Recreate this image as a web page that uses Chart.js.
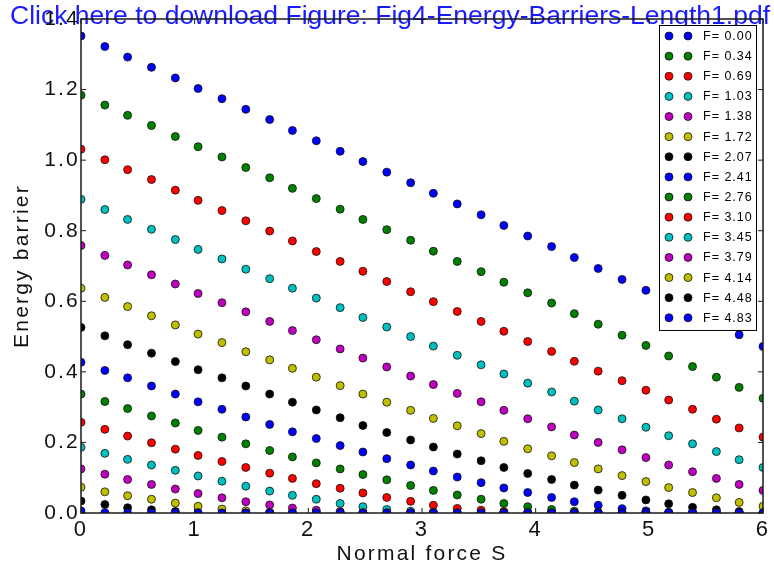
<!DOCTYPE html>
<html>
<head>
<meta charset="utf-8">
<script src="https://cdn.jsdelivr.net/npm/chart.js@4.4.1/dist/chart.umd.min.js"></script>
<style>
  html, body { margin: 0; padding: 0; background: #fff; }
  #wrap { position: relative; width: 774px; height: 568px; }
</style>
</head>
<body>
<div id="wrap"><canvas id="barrierChart"></canvas></div>
<script>
// normal force S (x positions of the points)
var sValues = [0, 0.21, 0.41, 0.62, 0.83, 1.03, 1.24, 1.45, 1.66, 1.86, 2.07, 2.28, 2.48, 2.69, 2.90,
  3.10, 3.31, 3.52, 3.72, 3.93, 4.14, 4.34, 4.55, 4.76, 4.97, 5.17, 5.38, 5.59, 5.79, 6.00];

var fLabels = ["F= 0.00", "F= 0.34", "F= 0.69", "F= 1.03", "F= 1.38", "F= 1.72", "F= 2.07", "F= 2.41",
  "F= 2.76", "F= 3.10", "F= 3.45", "F= 3.79", "F= 4.14", "F= 4.48", "F= 4.83"];

// matplotlib classic colour cycle b g r c m y k
var colorCycle = ["#0000ff", "#008000", "#ff0000", "#00bfbf", "#bf00bf", "#bfbf00", "#000000"];

var xTicks = [0, 1, 2, 3, 4, 5, 6];
var yTicks = [0, 0.2, 0.4, 0.6, 0.8, 1.0, 1.2, 1.4];

// energy barrier, one array per F
var barrierF000 = [1.352, 1.322, 1.292, 1.263, 1.233, 1.203, 1.174, 1.144, 1.115, 1.084, 1.055, 1.025, 0.996, 0.966, 0.936,
  0.906, 0.876, 0.845, 0.815, 0.785, 0.755, 0.724, 0.693, 0.662, 0.631, 0.600, 0.568, 0.537, 0.505, 0.472];
var barrierF034 = [1.184, 1.156, 1.127, 1.098, 1.067, 1.038, 1.009, 0.979, 0.950, 0.920, 0.891, 0.861, 0.832, 0.803, 0.773,
  0.742, 0.713, 0.684, 0.654, 0.624, 0.595, 0.565, 0.535, 0.504, 0.475, 0.445, 0.415, 0.385, 0.356, 0.325];
var barrierF069 = [1.031, 1.001, 0.973, 0.945, 0.915, 0.886, 0.857, 0.828, 0.799, 0.771, 0.741, 0.713, 0.685, 0.656, 0.627,
  0.599, 0.571, 0.543, 0.515, 0.486, 0.458, 0.430, 0.402, 0.375, 0.348, 0.320, 0.294, 0.266, 0.241, 0.215];
var barrierF103 = [0.889, 0.860, 0.832, 0.804, 0.775, 0.747, 0.720, 0.691, 0.664, 0.637, 0.609, 0.582, 0.554, 0.527, 0.500,
  0.473, 0.447, 0.420, 0.394, 0.368, 0.343, 0.317, 0.292, 0.267, 0.243, 0.219, 0.196, 0.174, 0.151, 0.129];
var barrierF138 = [0.758, 0.730, 0.703, 0.675, 0.649, 0.622, 0.596, 0.570, 0.543, 0.517, 0.491, 0.465, 0.439, 0.414, 0.388,
  0.364, 0.339, 0.315, 0.291, 0.267, 0.244, 0.221, 0.200, 0.179, 0.157, 0.136, 0.117, 0.098, 0.081, 0.064];
var barrierF172 = [0.637, 0.611, 0.585, 0.559, 0.533, 0.507, 0.483, 0.457, 0.434, 0.410, 0.385, 0.361, 0.337, 0.314, 0.291,
  0.268, 0.247, 0.225, 0.203, 0.182, 0.162, 0.143, 0.125, 0.106, 0.089, 0.072, 0.058, 0.043, 0.030, 0.019];
var barrierF207 = [0.526, 0.502, 0.477, 0.453, 0.429, 0.406, 0.383, 0.360, 0.337, 0.314, 0.292, 0.270, 0.248, 0.228, 0.207,
  0.187, 0.167, 0.148, 0.129, 0.112, 0.095, 0.079, 0.065, 0.050, 0.037, 0.026, 0.016, 0.009, 0.004, 0.001];
var barrierF241 = [0.427, 0.404, 0.383, 0.360, 0.337, 0.315, 0.294, 0.272, 0.251, 0.230, 0.211, 0.191, 0.173, 0.154, 0.136,
  0.119, 0.102, 0.086, 0.071, 0.058, 0.044, 0.032, 0.022, 0.012, 0.006, 0.002, 0, 0, 0, 0];
var barrierF276 = [0.337, 0.316, 0.296, 0.275, 0.255, 0.234, 0.215, 0.196, 0.177, 0.159, 0.142, 0.125, 0.109, 0.094, 0.078,
  0.064, 0.051, 0.039, 0.027, 0.018, 0.010, 0.005, 0.002, 0, 0, 0, 0, 0, 0, 0];
var barrierF310 = [0.257, 0.237, 0.218, 0.199, 0.181, 0.163, 0.146, 0.129, 0.113, 0.098, 0.083, 0.070, 0.057, 0.044, 0.033,
  0.022, 0.013, 0.008, 0.004, 0.001, 0, 0, 0, 0, 0, 0, 0, 0, 0, 0];
var barrierF345 = [0.186, 0.169, 0.152, 0.136, 0.121, 0.105, 0.090, 0.076, 0.062, 0.050, 0.039, 0.027, 0.018, 0.010, 0.005,
  0.002, 0, 0, 0, 0, 0, 0, 0, 0, 0, 0, 0, 0, 0, 0];
var barrierF379 = [0.125, 0.110, 0.095, 0.081, 0.068, 0.055, 0.043, 0.032, 0.023, 0.014, 0.008, 0.004, 0.001, 0, 0,
  0, 0, 0, 0, 0, 0, 0, 0, 0, 0, 0, 0, 0, 0, 0];
var barrierF414 = [0.073, 0.060, 0.049, 0.039, 0.028, 0.019, 0.011, 0.006, 0.002, 0, 0, 0, 0, 0, 0,
  0, 0, 0, 0, 0, 0, 0, 0, 0, 0, 0, 0, 0, 0, 0];
var barrierF448 = [0.034, 0.024, 0.015, 0.009, 0.004, 0.001, 0, 0, 0, 0, 0, 0, 0, 0, 0,
  0, 0, 0, 0, 0, 0, 0, 0, 0, 0, 0, 0, 0, 0, 0];
var barrierF483 = [0.006, 0.001, 0, 0, 0, 0, 0, 0, 0, 0, 0, 0, 0, 0, 0,
  0, 0, 0, 0, 0, 0, 0, 0, 0, 0, 0, 0, 0, 0, 0];

var barriers = [barrierF000, barrierF034, barrierF069, barrierF103, barrierF138, barrierF172, barrierF207, barrierF241,
  barrierF276, barrierF310, barrierF345, barrierF379, barrierF414, barrierF448, barrierF483];

var datasets = [];
for (var i = 0; i < barriers.length; i++) {
  var pts = [];
  for (var j = 0; j < sValues.length; j++) {
    pts.push({ x: sValues[j], y: barriers[i][j] });
  }
  var col = colorCycle[i % colorCycle.length];
  datasets.push({
    label: fLabels[i],
    data: pts,
    backgroundColor: col,
    borderColor: "#111",
    pointRadius: 4,
    pointBorderWidth: 0.8,
    pointHoverRadius: 4,
    clip: 0,
    order: barriers.length - i // later F drawn on top, like matplotlib
  });
}

var AXIS_FONT = '"Liberation Sans", Arial, sans-serif';

// blue link text on top of the page + letter spacing for axis text
var headerPlugin = {
  id: "header",
  beforeDraw: function (chart) {
    var ctx = chart.ctx;
    ctx.save();
    ctx.letterSpacing = "0px";
    ctx.font = '26.5px ' + AXIS_FONT;
    ctx.fillStyle = "#1a1aff";
    ctx.textBaseline = "alphabetic";
    ctx.fillText("Click here to download Figure: Fig4-Energy-Barriers-Length1.pdf", 10, 24);
    ctx.restore();
    ctx.letterSpacing = "2.2px";
  }
};

// box frame with inward ticks on all four sides
var framePlugin = {
  id: "frame",
  afterDatasetsDraw: function (chart) {
    var ctx = chart.ctx;
    var a = chart.chartArea;
    var xs = chart.scales.x, ys = chart.scales.y;
    var tl = 5;
    ctx.save();
    ctx.strokeStyle = "#1a1a1a";
    ctx.lineWidth = 1;
    ctx.beginPath();
    xTicks.forEach(function (v) {
      var px = xs.getPixelForValue(v);
      ctx.moveTo(px, a.bottom); ctx.lineTo(px, a.bottom - tl);
      ctx.moveTo(px, a.top); ctx.lineTo(px, a.top + tl);
    });
    yTicks.forEach(function (v) {
      var py = ys.getPixelForValue(v);
      ctx.moveTo(a.left, py); ctx.lineTo(a.left + tl, py);
      ctx.moveTo(a.right, py); ctx.lineTo(a.right - tl, py);
    });
    ctx.stroke();
    ctx.lineWidth = 1.5;
    ctx.strokeRect(a.left, a.top, a.right - a.left, a.bottom - a.top);
    ctx.restore();
  }
};

// legend in the upper right corner, inside the axes
var legendPlugin = {
  id: "innerLegend",
  afterDatasetsDraw: function (chart) {
    var ctx = chart.ctx;
    var a = chart.chartArea;
    var ds = chart.data.datasets;
    var boxW = 97, rowH = 20.13;
    var boxH = ds.length * rowH + 3;
    var bx = a.right - 7 - boxW, by = a.top + 6;
    ctx.save();
    ctx.fillStyle = "#fff";
    ctx.strokeStyle = "#000";
    ctx.lineWidth = 1;
    ctx.fillRect(bx, by, boxW, boxH);
    ctx.strokeRect(bx + 0.5, by + 0.5, boxW, boxH);
    ctx.font = '12.5px ' + AXIS_FONT;
    ctx.letterSpacing = "1px";
    ctx.textBaseline = "middle";
    for (var k = 0; k < ds.length; k++) {
      var cy = by + 11 + k * rowH;
      [bx + 10, bx + 29].forEach(function (cx) {
        ctx.beginPath();
        ctx.arc(cx, cy, 4, 0, Math.PI * 2);
        ctx.fillStyle = ds[k].backgroundColor;
        ctx.fill();
        ctx.lineWidth = 0.8;
        ctx.strokeStyle = "#111";
        ctx.stroke();
      });
      ctx.fillStyle = "#000";
      ctx.fillText(ds[k].label, bx + 44, cy + 0.5);
    }
    ctx.restore();
  }
};

var chartArea = document.getElementById("barrierChart").getContext("2d");
var barrierChart = new Chart(chartArea, {
  type: "scatter",
  data: { datasets: datasets },
  options: {
    responsive: true,
    maintainAspectRatio: false,
    animation: false,
    events: [],
    layout: { padding: { top: 19, right: 11, left: 0, bottom: 0 } },
    plugins: {
      legend: { display: false },
      tooltip: { enabled: false }
    },
    scales: {
      x: {
        type: "linear",
        min: 0,
        max: 6,
        grid: { display: false, drawTicks: false },
        border: { display: false },
        afterBuildTicks: function (scale) {
          scale.ticks = xTicks.map(function (v) { return { value: v }; });
        },
        afterFit: function (scale) { scale.height = 55; },
        ticks: {
          autoSkip: false,
          maxRotation: 0,
          padding: 4,
          color: "#111",
          font: { family: AXIS_FONT, size: 22 },
          callback: function (v) { return String(v); }
        },
        title: {
          display: true,
          text: "Normal force S",
          color: "#111",
          font: { family: AXIS_FONT, size: 21, lineHeight: 1 },
          padding: { top: 0, bottom: 3 }
        }
      },
      y: {
        type: "linear",
        min: 0,
        max: 1.4,
        grid: { display: false, drawTicks: false },
        border: { display: false },
        afterBuildTicks: function (scale) {
          scale.ticks = yTicks.map(function (v) { return { value: v }; });
        },
        afterFit: function (scale) { scale.width = 81; },
        ticks: {
          autoSkip: false,
          padding: 1,
          color: "#111",
          font: { family: AXIS_FONT, size: 21 },
          callback: function (v) { return v.toFixed(1); }
        },
        title: {
          display: true,
          text: "Energy barrier",
          color: "#111",
          font: { family: AXIS_FONT, size: 21, lineHeight: 1 },
          padding: { top: 12, bottom: 0 }
        }
      }
    }
  },
  plugins: [headerPlugin, framePlugin, legendPlugin]
});
</script>
</body>
</html>
